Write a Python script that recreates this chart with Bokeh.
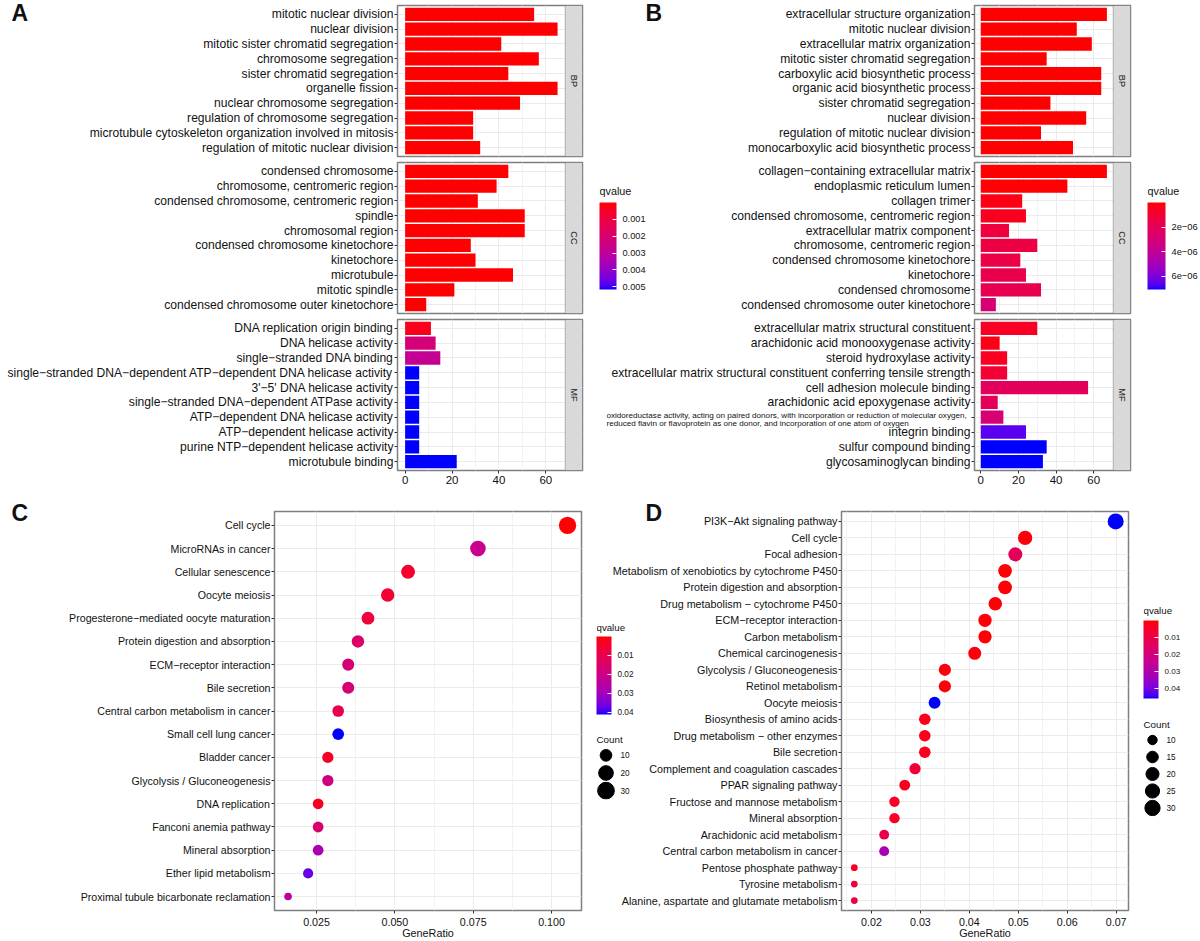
#!/usr/bin/env python3
import math

from bokeh.embed import file_html
from bokeh.layouts import column
from bokeh.models import AllLabels, BoxAnnotation, ColorBar, ColumnDataSource, FactorRange, FixedTicker
from bokeh.models import Label, LinearColorMapper, NumeralTickFormatter, Range1d
from bokeh.plotting import figure
from bokeh.resources import INLINE
from bokeh.transform import transform

FONT = "Liberation Sans"
BORDER = "#7f7f7f"
GRID = "#ebebeb"
TEXT = "#111111"

A_BP_TERMS = ["mitotic nuclear division", "nuclear division", "mitotic sister chromatid segregation",
              "chromosome segregation", "sister chromatid segregation", "organelle fission",
              "nuclear chromosome segregation", "regulation of chromosome segregation",
              "microtubule cytoskeleton organization involved in mitosis",
              "regulation of mitotic nuclear division"]
A_BP_COUNTS = [55, 65, 41, 57, 44, 65, 49, 29, 29, 32]
A_BP_Q = [0.00002] * 10
A_CC_TERMS = ["condensed chromosome", "chromosome, centromeric region",
              "condensed chromosome, centromeric region", "spindle", "chromosomal region",
              "condensed chromosome kinetochore", "kinetochore", "microtubule", "mitotic spindle",
              "condensed chromosome outer kinetochore"]
A_CC_COUNTS = [44, 39, 31, 51, 51, 28, 30, 46, 21, 9]
A_CC_Q = [0.00002] * 10
A_MF_TERMS = ["DNA replication origin binding", "DNA helicase activity", "single−stranded DNA binding",
              "single−stranded DNA−dependent ATP−dependent DNA helicase activity",
              "3'−5' DNA helicase activity", "single−stranded DNA−dependent ATPase activity",
              "ATP−dependent DNA helicase activity", "ATP−dependent helicase activity",
              "purine NTP−dependent helicase activity", "microtubule binding"]
A_MF_COUNTS = [11, 13, 15, 6, 6, 6, 6, 6, 6, 22]
A_MF_Q = [0.0003, 0.0022, 0.0028, 0.00516, 0.00516, 0.00516, 0.00516, 0.00516, 0.00516, 0.00516]
A_Q_MAX = 0.00516
A_Q_TICKS = [0.001, 0.002, 0.003, 0.004, 0.005]
A_Q_LABELS = ["0.001", "0.002", "0.003", "0.004", "0.005"]

B_BP_TERMS = ["extracellular structure organization", "mitotic nuclear division",
              "extracellular matrix organization", "mitotic sister chromatid segregation",
              "carboxylic acid biosynthetic process", "organic acid biosynthetic process",
              "sister chromatid segregation", "nuclear division",
              "regulation of mitotic nuclear division", "monocarboxylic acid biosynthetic process"]
B_BP_COUNTS = [67, 51, 59, 35, 64, 64, 37, 56, 32, 49]
B_BP_Q = [2e-8] * 10
B_CC_TERMS = ["collagen−containing extracellular matrix", "endoplasmic reticulum lumen", "collagen trimer",
              "condensed chromosome, centromeric region", "extracellular matrix component",
              "chromosome, centromeric region", "condensed chromosome kinetochore", "kinetochore",
              "condensed chromosome", "condensed chromosome outer kinetochore"]
B_CC_COUNTS = [67, 46, 22, 24, 15, 30, 21, 24, 32, 8]
B_CC_Q = [1e-8, 3e-8, 3e-7, 5e-7, 1.3e-6, 1.4e-6, 1.5e-6, 1.7e-6, 1.8e-6, 2.9e-6]
# this term is too long for the axis font, its tick stays blank and the text goes in two small lines
OXIDO_TERM = " "
OXIDO_LINES = ["oxidoreductase activity, acting on paired donors, with incorporation or reduction of molecular oxygen,",
               "reduced flavin or flavoprotein as one donor, and incorporation of one atom of oxygen"]
B_MF_TERMS = ["extracellular matrix structural constituent", "arachidonic acid monooxygenase activity",
              "steroid hydroxylase activity",
              "extracellular matrix structural constituent conferring tensile strength",
              "cell adhesion molecule binding", "arachidonic acid epoxygenase activity", OXIDO_TERM,
              "integrin binding", "sulfur compound binding", "glycosaminoglycan binding"]
B_MF_COUNTS = [30, 10, 14, 14, 57, 9, 12, 24, 35, 33]
B_MF_Q = [6e-7, 3e-7, 5e-7, 1.0e-6, 2.1e-6, 2.0e-6, 2.9e-6, 6.6e-6, 7.1e-6, 7.1e-6]
B_Q_MAX = 7.1e-6
B_Q_TICKS = [2e-6, 4e-6, 6e-6]
B_Q_LABELS = ["2e−06", "4e−06", "6e−06"]

C_TERMS = ["Cell cycle", "MicroRNAs in cancer", "Cellular senescence", "Oocyte meiosis",
           "Progesterone−mediated oocyte maturation", "Protein digestion and absorption",
           "ECM−receptor interaction", "Bile secretion", "Central carbon metabolism in cancer",
           "Small cell lung cancer", "Bladder cancer", "Glycolysis / Gluconeogenesis", "DNA replication",
           "Fanconi anemia pathway", "Mineral absorption", "Ether lipid metabolism",
           "Proximal tubule bicarbonate reclamation"]
C_RATIO = [0.1051, 0.0765, 0.0542, 0.0477, 0.0414, 0.0382, 0.0351, 0.0351, 0.0319, 0.0319, 0.0286,
           0.0286, 0.0255, 0.0255, 0.0255, 0.0223, 0.0159]
C_COUNTS = [33, 24, 17, 15, 13, 12, 11, 11, 10, 10, 9, 9, 8, 8, 8, 7, 5]
C_Q = [0.0002, 0.021, 0.005, 0.006, 0.0075, 0.015, 0.017, 0.017, 0.01, 0.0413, 0.004, 0.019, 0.003,
       0.016, 0.028, 0.037, 0.025]
C_Q_MAX = 0.0413
C_Q_TICKS = [0.01, 0.02, 0.03, 0.04]
C_Q_LABELS = ["0.01", "0.02", "0.03", "0.04"]
C_LEGEND_COUNTS = [10, 20, 30]

D_TERMS = ["PI3K−Akt signaling pathway", "Cell cycle", "Focal adhesion",
           "Metabolism of xenobiotics by cytochrome P450", "Protein digestion and absorption",
           "Drug metabolism − cytochrome P450", "ECM−receptor interaction", "Carbon metabolism",
           "Chemical carcinogenesis", "Glycolysis / Gluconeogenesis", "Retinol metabolism", "Oocyte meiosis",
           "Biosynthesis of amino acids", "Drug metabolism − other enzymes", "Bile secretion",
           "Complement and coagulation cascades", "PPAR signaling pathway", "Fructose and mannose metabolism",
           "Mineral absorption", "Arachidonic acid metabolism", "Central carbon metabolism in cancer",
           "Pentose phosphate pathway", "Tyrosine metabolism", "Alanine, aspartate and glutamate metabolism"]
D_RATIO = [0.0699, 0.0514, 0.0494, 0.0473, 0.0473, 0.0453, 0.0432, 0.0432, 0.0411, 0.035, 0.035, 0.0329,
           0.0309, 0.0309, 0.0309, 0.0289, 0.0268, 0.0247, 0.0247, 0.0226, 0.0226, 0.0165, 0.0165, 0.0165]
D_COUNTS = [34, 25, 24, 23, 23, 22, 21, 21, 20, 17, 17, 16, 15, 15, 15, 14, 13, 12, 12, 11, 11, 8, 8, 8]
D_Q = [0.0462, 0.001, 0.0135, 0.0005, 0.0005, 0.0007, 0.0005, 0.0005, 0.001, 0.001, 0.001, 0.0462, 0.002,
       0.002, 0.003, 0.007, 0.003, 0.004, 0.004, 0.011, 0.032, 0.004, 0.008, 0.009]
D_Q_MAX = 0.0462
D_Q_TICKS = [0.01, 0.02, 0.03, 0.04]
D_Q_LABELS = ["0.01", "0.02", "0.03", "0.04"]
D_LEGEND_COUNTS = [10, 15, 20, 25, 30]


# ggplot's red to blue gradient goes through Lab, not RGB
def lab_to_hex(l, a, b):
    fy = (l + 16) / 116
    fx = fy + a / 500
    fz = fy - b / 200
    def finv(t):
        return t ** 3 if t > 6 / 29 else 3 * (6 / 29) ** 2 * (t - 4 / 29)
    x, y, z = 0.95047 * finv(fx), finv(fy), 1.08883 * finv(fz)
    rgb = [3.2406 * x - 1.5372 * y - 0.4986 * z,
           -0.9689 * x + 1.8758 * y + 0.0415 * z,
           0.0557 * x - 0.2040 * y + 1.0570 * z]
    out = []
    for c in rgb:
        c = max(0, min(1, c))
        c = 12.92 * c if c <= 0.0031308 else 1.055 * c ** (1 / 2.4) - 0.055
        out.append(round(c * 255))
    return "#%02x%02x%02x" % tuple(out)


RED_TO_BLUE = []
for i in range(256):
    t = i / 255
    RED_TO_BLUE.append(lab_to_hex(53.24 - 20.94 * t, 80.09 - 0.9 * t, 67.2 - 175.06 * t))


def place(x, y):
    return {"position": "absolute", "left": "%dpx" % x, "top": "%dpx" % y}


def panel_figure(frame, extent, x_range, y_range, **kw):
    l, t, r, b = frame
    fl, ft, fr, fb = extent
    # frame_align off, otherwise a column lines all the frames up with each other
    return figure(frame_width=r - l, frame_height=b - t, x_range=x_range, y_range=y_range,
                  output_backend="svg", toolbar_location=None, styles=place(fl, ft), frame_align=False,
                  min_border_left=l - fl, min_border_right=fr - r, min_border_top=t - ft,
                  min_border_bottom=fb - b, border_fill_color=None, background_fill_color="white",
                  outline_line_color=BORDER, outline_line_width=1.5, **kw)


def blank_figure(frame):
    p = panel_figure(frame, frame, Range1d(0, 1), Range1d(0, 1), x_axis_location=None, y_axis_location=None)
    p.grid.visible = False
    p.outline_line_color = None
    p.background_fill_color = None
    return p


# labels get clipped to their frame, so loose text sits in a small transparent figure of its own
def text_box(x, y, width, text, size, bold=False):
    height = round(float(size[:-2]) * 1.6)
    p = blank_figure((x, round(y - height / 2), x + width, round(y - height / 2) + height))
    p.add_layout(Label(x=0, y=height / 2, x_units="screen", y_units="screen", text=text,
                       text_font=FONT, text_font_size=size,
                       text_font_style="bold" if bold else "normal", text_color=TEXT,
                       text_baseline="middle"))
    return p


def term_range(terms):
    return FactorRange(factors=terms[::-1], range_padding=0.1, range_padding_units="absolute")


def style_axes(p, label_size, x_ticks, x_minor, show_x):
    ticker = FixedTicker(ticks=x_ticks, minor_ticks=x_minor)
    p.xgrid.ticker = ticker
    p.xgrid.grid_line_color = GRID
    p.xgrid.minor_grid_line_color = "#f2f2f2"
    p.ygrid.grid_line_color = GRID
    p.yaxis.axis_line_color = None
    p.yaxis.major_tick_line_color = "#333333"
    p.yaxis.major_tick_in = 0
    p.yaxis.major_tick_out = 3
    p.yaxis.major_label_standoff = 1
    p.yaxis.major_label_text_font = FONT
    p.yaxis.major_label_text_font_size = label_size
    p.yaxis.major_label_text_color = TEXT
    p.xaxis.ticker = ticker
    p.xaxis.axis_line_color = None
    p.xaxis.major_tick_line_color = "#333333"
    p.xaxis.minor_tick_line_color = None
    p.xaxis.major_tick_in = 0
    p.xaxis.major_tick_out = 3
    p.xaxis.major_label_standoff = 1
    p.xaxis.major_label_text_font = FONT
    p.xaxis.major_label_text_color = TEXT
    p.xaxis.visible = show_x


def facet(terms, counts, qs, q_max, strip, frame, extent, x_lo, x_hi, show_x=False):
    # the strip is drawn inside the frame, past x_hi, so the x range is stretched by its width
    strip_px = 17.3
    px_per_unit = (frame[2] - strip_px - frame[0]) / (x_hi - x_lo)
    x_end = x_hi + strip_px / px_per_unit
    p = panel_figure(frame, extent, Range1d(x_lo, x_end), term_range(terms))
    style_axes(p, "12.1px", [0, 20, 40, 60], [10, 30, 50], show_x)
    p.xaxis.major_label_text_font_size = "11.5px"
    mapper = LinearColorMapper(palette=RED_TO_BLUE, low=0, high=q_max)
    source = ColumnDataSource(dict(term=terms, count=counts, q=qs))
    p.hbar(y="term", left=0, right="count", height=0.9, source=source,
           fill_color=transform("q", mapper), line_color=None)
    p.add_layout(BoxAnnotation(left=x_hi, right=x_end, fill_color="#d9d9d9", fill_alpha=1,
                               line_color="#333333", line_width=1))
    p.add_layout(Label(x=(x_hi + x_end) / 2, y=len(terms) / 2, text=strip, angle=-90, angle_units="deg",
                       text_font=FONT, text_font_size="9.2px", text_color="#1a1a1a",
                       text_align="center", text_baseline="middle"))
    return p


def color_legend(q_max, ticks, labels, x, bar_top, bar_bottom, bar_width, size):
    # colour bars always grow upwards, ggplot's starts at the top, so it runs on negated values
    mapper = LinearColorMapper(palette=RED_TO_BLUE[::-1], low=-q_max, high=0)
    neg = [-v for v in ticks]
    bar = ColorBar(color_mapper=mapper, location=(0, 2), width=bar_width, height=bar_bottom - bar_top,
                   padding=0, margin=0, ticker=FixedTicker(ticks=neg), minor_tick_line_color=None,
                   major_label_overrides=dict(zip(neg, labels)), major_label_policy=AllLabels(),
                   major_tick_line_color="white", major_tick_in=4, major_tick_out=0, bar_line_color=None,
                   label_standoff=6, major_label_text_font=FONT, major_label_text_font_size=size,
                   major_label_text_color=TEXT)
    p = blank_figure((x, bar_top - 3, x + 52, bar_bottom + 2))
    p.add_layout(bar)
    return p


def dot_size(count, cmin, cmax, dmin, dmax):
    return dmin + (dmax - dmin) * math.sqrt((count - cmin) / (cmax - cmin))


def count_legend(values, frame, cmin, cmax, dmin, dmax, size):
    names = [str(v) for v in values]
    extent = (frame[0], frame[1] - 22, frame[2] + 30, frame[3] + 2)
    p = panel_figure(frame, extent, Range1d(0, 1), FactorRange(factors=names[::-1]),
                     x_axis_location=None, y_axis_location="right", title="Count")
    p.title.text_font = FONT
    p.title.text_font_size = "9.8px"
    p.title.text_font_style = "normal"
    p.title.text_color = TEXT
    p.title.offset = 0
    p.title.standoff = 4
    p.grid.visible = False
    p.outline_line_color = None
    p.background_fill_color = None
    p.yaxis.axis_line_color = None
    p.yaxis.major_tick_line_color = None
    p.yaxis.major_tick_out = 0
    p.yaxis.major_label_standoff = 5
    p.yaxis.major_label_text_font = FONT
    p.yaxis.major_label_text_font_size = size
    p.yaxis.major_label_text_color = TEXT
    p.scatter(x=[0.5] * len(values), y=names, size=[dot_size(v, cmin, cmax, dmin, dmax) for v in values],
              color="black")
    return p


def dot_panel(terms, ratios, counts, qs, q_max, frame, extent, x_lo, x_hi, x_ticks, x_minor, fmt,
              label_size, dmin, dmax):
    p = panel_figure(frame, extent, Range1d(x_lo, x_hi), term_range(terms))
    style_axes(p, label_size, x_ticks, x_minor, True)
    p.xaxis.major_label_text_font_size = "10.7px"
    p.xaxis.major_label_standoff = 3
    p.xaxis[0].formatter = NumeralTickFormatter(format=fmt)
    p.xaxis.axis_label = "GeneRatio"
    p.xaxis.axis_label_text_font = FONT
    p.xaxis.axis_label_text_font_size = "10.8px"
    p.xaxis.axis_label_text_font_style = "normal"
    p.xaxis.axis_label_text_color = TEXT
    p.xaxis.axis_label_standoff = -2
    mapper = LinearColorMapper(palette=RED_TO_BLUE, low=0, high=q_max)
    sizes = [dot_size(c, min(counts), max(counts), dmin, dmax) for c in counts]
    source = ColumnDataSource(dict(term=terms, ratio=ratios, q=qs, size=sizes))
    p.scatter(x="ratio", y="term", size="size", source=source, fill_color=transform("q", mapper),
              line_color=None)
    return p


A_FRAMES = [(397, 5, 582, 156), (397, 162, 582, 313), (397, 319, 582, 470)]
B_FRAMES = [(974, 5, 1130, 156), (974, 162, 1130, 313), (974, 319, 1130, 470)]
A_EXTENTS = [(0, 0, 586, 158), (0, 160, 586, 315), (0, 317, 586, 495)]
B_EXTENTS = [(600, 0, 1134, 158), (600, 160, 1134, 315), (600, 317, 1134, 495)]

a_bp = facet(A_BP_TERMS, A_BP_COUNTS, A_BP_Q, A_Q_MAX, "BP", A_FRAMES[0], A_EXTENTS[0], -3.25, 68.25)
a_cc = facet(A_CC_TERMS, A_CC_COUNTS, A_CC_Q, A_Q_MAX, "CC", A_FRAMES[1], A_EXTENTS[1], -3.25, 68.25)
a_mf = facet(A_MF_TERMS, A_MF_COUNTS, A_MF_Q, A_Q_MAX, "MF", A_FRAMES[2], A_EXTENTS[2], -3.25, 68.25, True)

b_bp = facet(B_BP_TERMS, B_BP_COUNTS, B_BP_Q, B_Q_MAX, "BP", B_FRAMES[0], B_EXTENTS[0], -3.35, 70.35)
b_cc = facet(B_CC_TERMS, B_CC_COUNTS, B_CC_Q, B_Q_MAX, "CC", B_FRAMES[1], B_EXTENTS[1], -3.35, 70.35)
b_mf = facet(B_MF_TERMS, B_MF_COUNTS, B_MF_Q, B_Q_MAX, "MF", B_FRAMES[2], B_EXTENTS[2], -3.35, 70.35, True)

C_FRAME = (274, 511, 581, 910)
D_FRAME = (841, 511, 1128, 910)
C_EXTENT = (0, 497, 585, 941)
D_EXTENT = (605, 497, 1132, 941)
c_plot = dot_panel(C_TERMS, C_RATIO, C_COUNTS, C_Q, C_Q_MAX, C_FRAME, C_EXTENT,
                   0.01157, 0.10956, [0.025, 0.05, 0.075, 0.1], [0.0375, 0.0625, 0.0875], "0.000",
                   "10.65px", 7.6, 17.3)
d_plot = dot_panel(D_TERMS, D_RATIO, D_COUNTS, D_Q, D_Q_MAX, D_FRAME, D_EXTENT,
                   0.01388, 0.07252, [0.02, 0.03, 0.04, 0.05, 0.06, 0.07],
                   [0.015, 0.025, 0.035, 0.045, 0.055, 0.065], "0.00", "10.75px", 6.8, 16)

parts = [a_bp, a_cc, a_mf, b_bp, b_cc, b_mf, c_plot, d_plot,
         color_legend(A_Q_MAX, A_Q_TICKS, A_Q_LABELS, 599, 202, 289, 17, "9.2px"),
         color_legend(B_Q_MAX, B_Q_TICKS, B_Q_LABELS, 1147, 202, 289, 18, "9.3px"),
         color_legend(C_Q_MAX, C_Q_TICKS, C_Q_LABELS, 596, 636, 714, 15, "8.2px"),
         color_legend(D_Q_MAX, D_Q_TICKS, D_Q_LABELS, 1143, 620, 698, 15, "8.1px"),
         count_legend(C_LEGEND_COUNTS, (596, 746, 615, 799), 5, 33, 7.6, 17.3, "8.2px"),
         count_legend(D_LEGEND_COUNTS, (1143, 731, 1161, 816), 8, 34, 6.8, 16, "8.2px"),
         text_box(599, 191, 50, "qvalue", "10.8px"),
         text_box(1147, 191, 50, "qvalue", "10.8px"),
         text_box(596, 627, 45, "qvalue", "9.7px"),
         text_box(1143, 610, 45, "qvalue", "9.7px"),
         text_box(606, 415, 368, OXIDO_LINES[0], "8.1px"),
         text_box(606, 422, 368, OXIDO_LINES[1], "8.1px"),
         text_box(11, 13, 30, "A", "23px", bold=True),
         text_box(645, 12, 30, "B", "23px", bold=True),
         text_box(11, 512, 30, "C", "23px", bold=True),
         text_box(645, 512, 30, "D", "23px", bold=True)]

root = column(*parts, width=1184, height=925)
open("out.html", "w").write(file_html(root, INLINE))
